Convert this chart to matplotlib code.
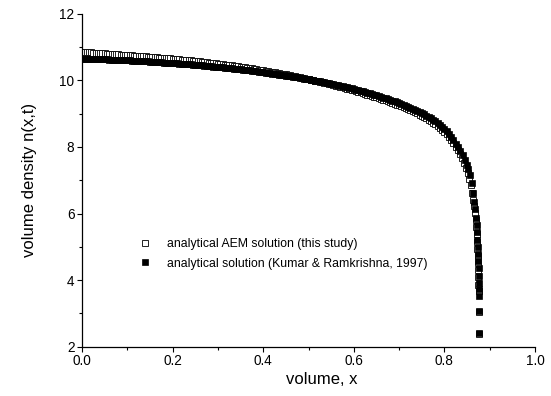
import matplotlib
matplotlib.use("Agg")
import matplotlib.pyplot as plt
import numpy as np
from matplotlib.ticker import MultipleLocator

plt.rcParams['font.family'] = ['Liberation Sans', 'DejaVu Sans']

# ---- data ----
# regular part: x from 0 to 0.835 with step 0.005
x_grid = [round(0.005 * i, 3) for i in range(168)]

kr_y_grid = [
    10.65, 10.65, 10.64, 10.64, 10.64, 10.64, 10.64, 10.63, 10.63, 10.63,
    10.63, 10.63, 10.62, 10.62, 10.62, 10.62, 10.61, 10.61, 10.61, 10.60,
    10.60, 10.60, 10.59, 10.59, 10.58, 10.58, 10.58, 10.57, 10.57, 10.57,
    10.56, 10.56, 10.55, 10.55, 10.54, 10.54, 10.53, 10.53, 10.52, 10.52,
    10.52, 10.51, 10.51, 10.50, 10.50, 10.49, 10.49, 10.48, 10.48, 10.47,
    10.46, 10.46, 10.45, 10.45, 10.44, 10.43, 10.43, 10.42, 10.41, 10.41,
    10.40, 10.39, 10.39, 10.38, 10.37, 10.37, 10.36, 10.35, 10.35, 10.34,
    10.33, 10.32, 10.31, 10.30, 10.30, 10.29, 10.28, 10.27, 10.26, 10.25,
    10.24, 10.23, 10.22, 10.21, 10.20, 10.19, 10.18, 10.17, 10.16, 10.15,
    10.14, 10.13, 10.12, 10.11, 10.10, 10.09, 10.08, 10.06, 10.05, 10.04,
    10.03, 10.02, 10.00, 9.99, 9.98, 9.97, 9.95, 9.94, 9.93, 9.91,
    9.90, 9.88, 9.87, 9.85, 9.84, 9.82, 9.80, 9.79, 9.77, 9.76,
    9.74, 9.72, 9.70, 9.68, 9.67, 9.65, 9.63, 9.61, 9.59, 9.57,
    9.55, 9.53, 9.51, 9.48, 9.46, 9.44, 9.41, 9.39, 9.37, 9.34,
    9.32, 9.29, 9.26, 9.24, 9.21, 9.18, 9.15, 9.12, 9.08, 9.05,
    9.02, 8.98, 8.94, 8.90, 8.86, 8.82, 8.77, 8.72, 8.67, 8.61,
    8.55, 8.47, 8.39, 8.30, 8.20, 8.10, 7.99, 7.88,
]

aem_y_grid = [
    10.86, 10.85, 10.85, 10.84, 10.84, 10.83, 10.83, 10.82, 10.82, 10.81,
    10.81, 10.80, 10.80, 10.79, 10.79, 10.78, 10.78, 10.77, 10.77, 10.76,
    10.76, 10.75, 10.75, 10.74, 10.74, 10.73, 10.73, 10.72, 10.72, 10.71,
    10.71, 10.70, 10.70, 10.69, 10.68, 10.68, 10.67, 10.67, 10.66, 10.66,
    10.65, 10.64, 10.64, 10.63, 10.62, 10.62, 10.61, 10.60, 10.60, 10.59,
    10.58, 10.57, 10.57, 10.56, 10.55, 10.54, 10.53, 10.53, 10.52, 10.51,
    10.50, 10.49, 10.48, 10.47, 10.46, 10.46, 10.45, 10.44, 10.43, 10.42,
    10.41, 10.40, 10.39, 10.38, 10.37, 10.36, 10.34, 10.33, 10.32, 10.31,
    10.30, 10.29, 10.28, 10.26, 10.25, 10.24, 10.23, 10.22, 10.20, 10.19,
    10.18, 10.17, 10.15, 10.14, 10.12, 10.11, 10.10, 10.08, 10.07, 10.05,
    10.04, 10.02, 10.01, 9.99, 9.98, 9.96, 9.94, 9.93, 9.91, 9.90,
    9.88, 9.86, 9.84, 9.83, 9.81, 9.79, 9.77, 9.75, 9.73, 9.72,
    9.70, 9.68, 9.66, 9.64, 9.62, 9.60, 9.57, 9.55, 9.53, 9.51,
    9.49, 9.47, 9.44, 9.42, 9.40, 9.37, 9.35, 9.32, 9.30, 9.27,
    9.25, 9.22, 9.19, 9.16, 9.13, 9.10, 9.07, 9.04, 9.01, 8.97,
    8.94, 8.90, 8.86, 8.82, 8.78, 8.73, 8.68, 8.63, 8.58, 8.52,
    8.46, 8.38, 8.30, 8.21, 8.11, 8.01, 7.90, 7.78,
]

# steep tail near x ~ 0.875
kr_x_tail = [0.840, 0.845, 0.849, 0.853, 0.857, 0.861, 0.864, 0.866, 0.868, 0.870,
             0.871, 0.872, 0.873, 0.874, 0.8745, 0.875, 0.8755, 0.876, 0.876,
             0.8765, 0.8765, 0.877, 0.877]
kr_y_tail = [7.76, 7.62, 7.47, 7.33, 7.16, 6.92, 6.62, 6.35, 6.14, 5.88,
             5.66, 5.44, 5.22, 5.00, 4.78, 4.58, 4.36, 4.12, 3.92,
             3.74, 3.52, 3.06, 2.42]

aem_x_tail = [0.839, 0.843, 0.847, 0.851, 0.855, 0.858, 0.861, 0.863, 0.865, 0.867,
              0.869, 0.870, 0.871, 0.872, 0.873, 0.8735, 0.874, 0.8745, 0.875,
              0.875, 0.8755, 0.8755, 0.876]
aem_y_tail = [7.66, 7.53, 7.38, 7.22, 7.04, 6.86, 6.62, 6.40, 6.22, 6.02,
              5.80, 5.60, 5.38, 5.16, 4.94, 4.72, 4.52, 4.30, 4.08,
              3.86, 3.66, 3.04, 2.38]

label_aem = "analytical AEM solution (this study)"
label_kr = "analytical solution (Kumar & Ramkrishna, 1997)"

x_ticks = [0.0, 0.2, 0.4, 0.6, 0.8, 1.0]
y_ticks = [2, 4, 6, 8, 10, 12]

# ---- figure ----
fig = plt.figure(figsize=(5.51, 3.96), dpi=100)
ax = fig.add_axes([0.149, 0.1245, 0.822, 0.8405])

kr_x = x_grid + kr_x_tail
kr_y = kr_y_grid + kr_y_tail
aem_x = x_grid + aem_x_tail
aem_y = aem_y_grid + aem_y_tail

h_aem, = ax.plot(aem_x, aem_y, linestyle='none', marker='s', markersize=4.2,
                 markerfacecolor='white', markeredgecolor='black', markeredgewidth=0.6,
                 label=label_aem, zorder=2)
h_kr, = ax.plot(kr_x, kr_y, linestyle='none', marker='s', markersize=4.2,
                markerfacecolor='black', markeredgecolor='black', markeredgewidth=0.5,
                label=label_kr, zorder=3)

ax.set_xlim(0.0, 1.0)
ax.set_ylim(2, 12)
ax.set_xticks(x_ticks)
ax.set_xticklabels([f"{v:.1f}" for v in x_ticks])
ax.set_yticks(y_ticks)
ax.set_yticklabels([str(v) for v in y_ticks])
ax.xaxis.set_minor_locator(MultipleLocator(0.1))
ax.yaxis.set_minor_locator(MultipleLocator(1))

for s in ['top', 'right']:
    ax.spines[s].set_visible(False)
for s in ['left', 'bottom']:
    ax.spines[s].set_linewidth(0.9)

ax.tick_params(which='major', direction='out', length=3.5, width=0.8,
               labelsize=9.8, pad=2)
ax.tick_params(which='minor', direction='out', length=2.5, width=0.8)

ax.set_xlabel("volume, x", fontsize=12)
ax.xaxis.set_label_coords(0.53, -0.075)
ax.set_ylabel("volume density n(x,t)", fontsize=12)
ax.yaxis.set_label_coords(-0.10, 0.5)

leg = ax.legend([h_aem, h_kr], [label_aem, label_kr], loc='upper left',
                bbox_to_anchor=(0.12, 0.34), frameon=False, fontsize=8.8,
                handlelength=0.6, handletextpad=1.5, labelspacing=0.6,
                borderaxespad=0, markerscale=1.0)

fig.savefig("out.png", dpi=100)
